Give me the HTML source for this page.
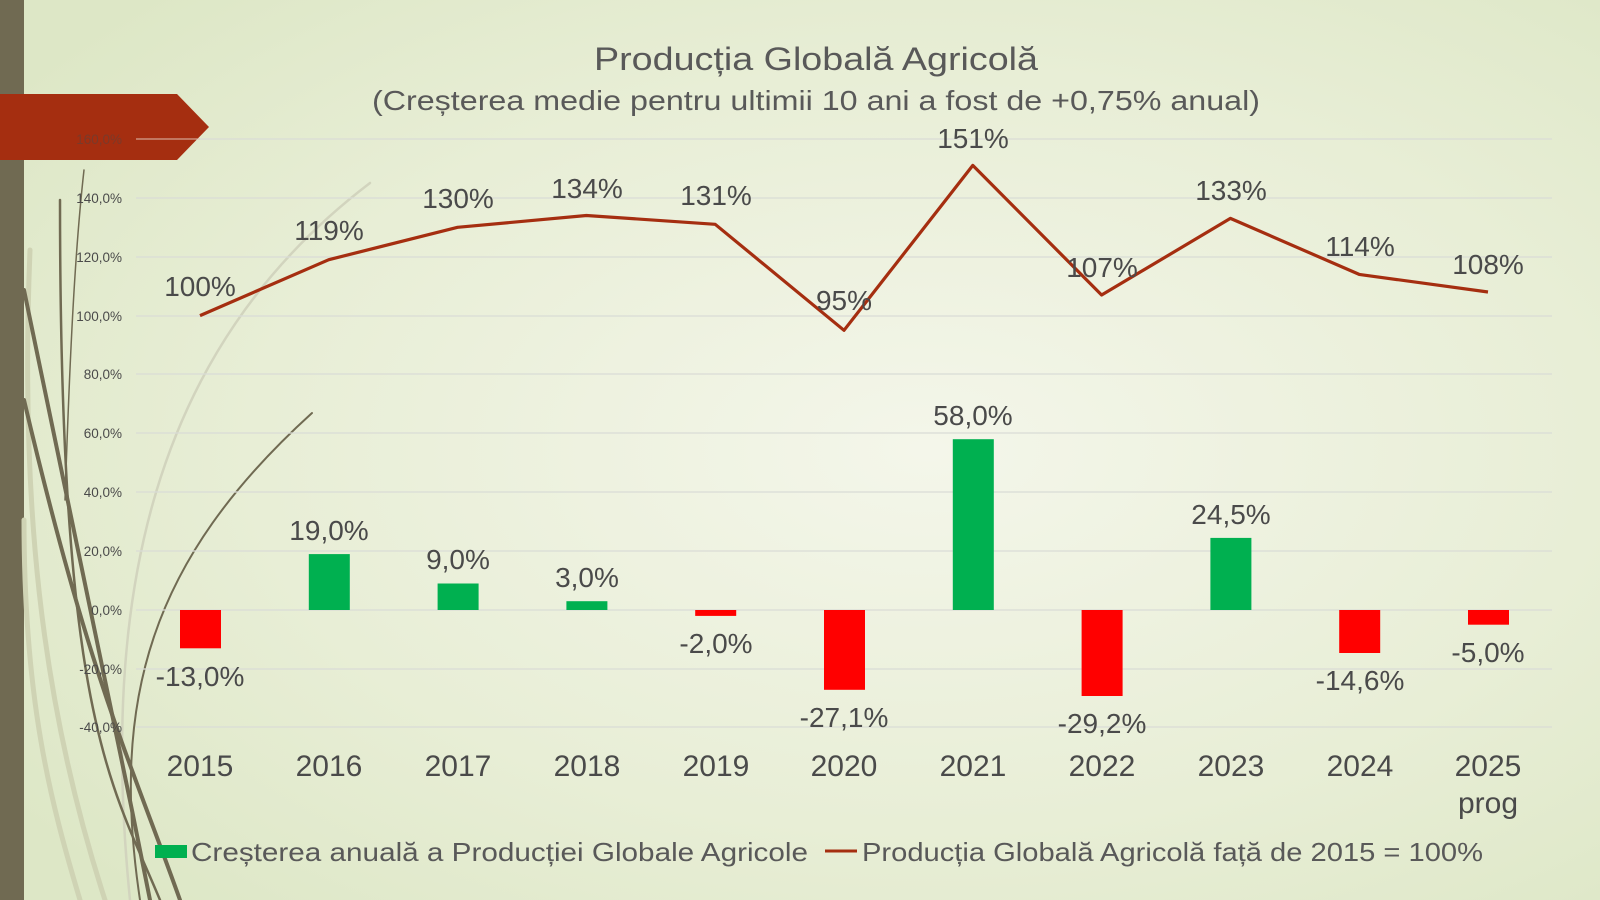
<!DOCTYPE html>
<html><head><meta charset="utf-8"><style>
html,body{margin:0;padding:0;width:1600px;height:900px;overflow:hidden}
body{background:radial-gradient(ellipse 70% 70% at 58% 50%,#f4f6ea 0%,#e8eed6 60%,#dde7c6 100%)}
svg{position:absolute;left:0;top:0}
text{font-family:"Liberation Sans",sans-serif;fill:#4a4a4a}
</style></head><body>
<svg width="1600" height="900" viewBox="0 0 1600 900">
<rect x="0" y="0" width="24" height="900" fill="#706a52"/>
<g fill="none" stroke-linecap="round">
<path d="M105,900 C40,700 20,500 30,250" stroke="#cfd3b4" stroke-width="5"/>
<path d="M80,900 C50,800 24,700 24,520" stroke="#cfd3b4" stroke-width="5"/>
<path d="M130,900 C100,600 150,350 370,183" stroke="#d2d4be" stroke-width="2.5"/>
<path d="M150,900 C120,750 110,700 24,290" stroke="#706a52" stroke-width="4"/>
<path d="M180,900 C130,760 90,680 24,400" stroke="#706a52" stroke-width="4"/>
<path d="M160,900 C110,780 60,720 60,200" stroke="#706a52" stroke-width="2.5"/>
<path d="M140,900 C110,700 150,560 312,413" stroke="#706a52" stroke-width="2"/>
<path d="M65,500 C70,350 75,250 84,170" stroke="#706a52" stroke-width="1.5"/>
</g>
<g stroke="#d9dcd6" stroke-width="1.3">
<line x1="136" x2="1552" y1="139" y2="139"/><line x1="136" x2="1552" y1="198" y2="198"/>
<line x1="136" x2="1552" y1="257" y2="257"/><line x1="136" x2="1552" y1="316" y2="316"/>
<line x1="136" x2="1552" y1="374" y2="374"/><line x1="136" x2="1552" y1="433" y2="433"/>
<line x1="136" x2="1552" y1="492" y2="492"/><line x1="136" x2="1552" y1="551" y2="551"/>
<line x1="136" x2="1552" y1="610" y2="610"/><line x1="136" x2="1552" y1="669" y2="669"/>
<line x1="136" x2="1552" y1="727" y2="727"/>
</g>
<polygon points="0,94 177,94 209,127 177,160 0,160" fill="#a52e10"/>
<line x1="136" x2="200" y1="139" y2="139" stroke="#e0c0b0" stroke-width="1"/>
<g font-size="13.5" text-anchor="end" fill="#595959">
<text x="122" y="144" style="fill:#7a3a2a">160,0%</text><text x="122" y="203">140,0%</text>
<text x="122" y="262">120,0%</text><text x="122" y="321">100,0%</text>
<text x="122" y="379">80,0%</text><text x="122" y="438">60,0%</text>
<text x="122" y="497">40,0%</text><text x="122" y="556">20,0%</text>
<text x="122" y="615">0,0%</text><text x="122" y="674">-20,0%</text>
<text x="122" y="732">-40,0%</text>
</g>
<text x="816" y="70" font-size="32" text-anchor="middle" textLength="444" lengthAdjust="spacingAndGlyphs" style="fill:#595959">Producția Globală Agricolă</text>
<text x="816" y="110" font-size="28" text-anchor="middle" textLength="888" lengthAdjust="spacingAndGlyphs" style="fill:#595959">(Creșterea medie pentru ultimii 10 ani a fost de +0,75% anual)</text>
<!-- bars -->
<g>
<rect x="180" y="610" width="41" height="38.3" fill="#ff0000"/>
<rect x="308.8" y="554.1" width="41" height="55.9" fill="#00b050"/>
<rect x="437.6" y="583.5" width="41" height="26.5" fill="#00b050"/>
<rect x="566.4" y="601.2" width="41" height="8.8" fill="#00b050"/>
<rect x="695.2" y="610" width="41" height="5.9" fill="#ff0000"/>
<rect x="824" y="610" width="41" height="79.8" fill="#ff0000"/>
<rect x="952.8" y="439.2" width="41" height="170.8" fill="#00b050"/>
<rect x="1081.6" y="610" width="41" height="86" fill="#ff0000"/>
<rect x="1210.4" y="537.9" width="41" height="72.1" fill="#00b050"/>
<rect x="1339.2" y="610" width="41" height="43" fill="#ff0000"/>
<rect x="1468" y="610" width="41" height="14.7" fill="#ff0000"/>
</g>
<g font-size="28" text-anchor="middle">
<text x="200" y="686">-13,0%</text>
<text x="329" y="540">19,0%</text>
<text x="458" y="569">9,0%</text>
<text x="587" y="587">3,0%</text>
<text x="716" y="653">-2,0%</text>
<text x="844" y="727">-27,1%</text>
<text x="973" y="425">58,0%</text>
<text x="1102" y="733">-29,2%</text>
<text x="1231" y="524">24,5%</text>
<text x="1360" y="690">-14,6%</text>
<text x="1488" y="662">-5,0%</text>
</g>
<polyline fill="none" stroke="#a52e10" stroke-width="3.2" stroke-linejoin="round" points="200,315.6 328.8,259.7 457.6,227.3 586.4,215.5 715.2,224.3 844,330.3 972.8,165.4 1101.6,295 1230.4,218.4 1359.2,274.4 1488,292"/>
<g font-size="28" text-anchor="middle">
<text x="200" y="296">100%</text>
<text x="329" y="240">119%</text>
<text x="458" y="208">130%</text>
<text x="587" y="198">134%</text>
<text x="716" y="205">131%</text>
<text x="844" y="310">95%</text>
<text x="973" y="148">151%</text>
<text x="1102" y="277">107%</text>
<text x="1231" y="200">133%</text>
<text x="1360" y="256">114%</text>
<text x="1488" y="274">108%</text>
</g>
<g font-size="30" text-anchor="middle" fill="#595959">
<text x="200" y="776">2015</text><text x="329" y="776">2016</text>
<text x="458" y="776">2017</text><text x="587" y="776">2018</text>
<text x="716" y="776">2019</text><text x="844" y="776">2020</text>
<text x="973" y="776">2021</text><text x="1102" y="776">2022</text>
<text x="1231" y="776">2023</text><text x="1360" y="776">2024</text>
<text x="1488" y="776">2025</text><text x="1488" y="813">prog</text>
</g>
<rect x="155" y="845" width="32" height="13" fill="#00b050"/>
<text x="191" y="861" font-size="26" textLength="617" lengthAdjust="spacingAndGlyphs" style="fill:#595959">Creșterea anuală a Producției Globale Agricole</text>
<line x1="825" x2="857" y1="851" y2="851" stroke="#a52e10" stroke-width="3"/>
<text x="862" y="861" font-size="26" textLength="621" lengthAdjust="spacingAndGlyphs" style="fill:#595959">Producția Globală Agricolă față de 2015 = 100%</text>
</svg>
</body></html>
